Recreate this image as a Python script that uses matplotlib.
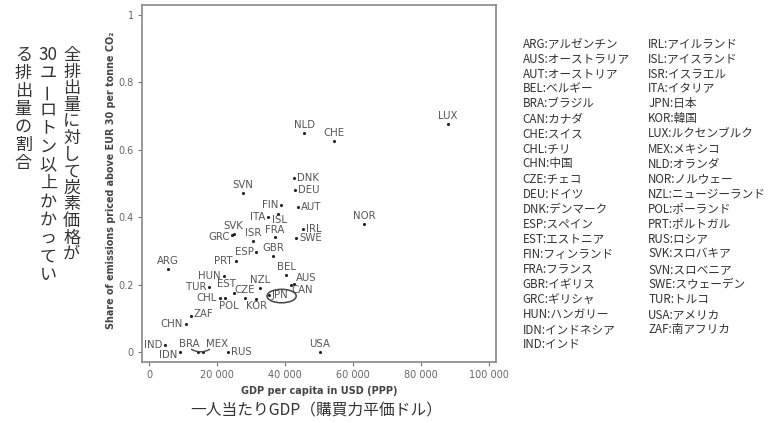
import matplotlib
matplotlib.use('Agg')
import matplotlib.pyplot as plt
from matplotlib.patches import Ellipse, FancyArrowPatch

plt.rcParams['font.family'] = ['DejaVu Sans', 'Noto Sans CJK JP']

# ---------------- data ----------------
codes = ['ARG', 'AUS', 'AUT', 'BEL', 'BRA', 'CAN', 'CHE', 'CHL', 'CHN', 'CZE',
         'DEU', 'DNK', 'ESP', 'EST', 'FIN', 'FRA', 'GBR', 'GRC', 'HUN', 'IDN',
         'IND', 'IRL', 'ISL', 'ISR', 'ITA', 'JPN', 'KOR', 'LUX', 'MEX', 'NLD',
         'NOR', 'NZL', 'POL', 'PRT', 'RUS', 'SVK', 'SVN', 'SWE', 'TUR', 'USA', 'ZAF']
gdp = [5600, 42600, 43900, 40300, 14300, 41700, 54400, 20900, 10800, 28200,
       42900, 42700, 31600, 25000, 38900, 37000, 36500, 24400, 22000, 9100,
       4800, 45300, 38000, 30700, 35000, 35300, 31500, 87800, 16000, 45600,
       63300, 32600, 22300, 25500, 23100, 24900, 27500, 43200, 17700, 50300, 12300]
share = [0.246, 0.203, 0.430, 0.228, 0.0, 0.198, 0.627, 0.161, 0.083, 0.161,
         0.481, 0.517, 0.298, 0.174, 0.436, 0.340, 0.284, 0.346, 0.226, 0.0,
         0.020, 0.364, 0.410, 0.328, 0.400, 0.168, 0.156, 0.676, 0.0, 0.651,
         0.379, 0.189, 0.161, 0.270, 0.0, 0.351, 0.473, 0.338, 0.192, 0.0, 0.108]

x_ticks = [0, 20000, 40000, 60000, 80000, 100000]
x_tick_labels = ['0', '20 000', '40 000', '60 000', '80 000', '100 000']
y_ticks = [0, 0.2, 0.4, 0.6, 0.8, 1.0]
y_tick_labels = ['0', '0.2', '0.4', '0.6', '0.8', '1']

legend_col1 = ['ARG:アルゼンチン', 'AUS:オーストラリア', 'AUT:オーストリア', 'BEL:ベルギー',
               'BRA:ブラジル', 'CAN:カナダ', 'CHE:スイス', 'CHL:チリ', 'CHN:中国',
               'CZE:チェコ', 'DEU:ドイツ', 'DNK:デンマーク', 'ESP:スペイン', 'EST:エストニア',
               'FIN:フィンランド', 'FRA:フランス', 'GBR:イギリス', 'GRC:ギリシャ',
               'HUN:ハンガリー', 'IDN:インドネシア', 'IND:インド']
legend_col2 = ['IRL:アイルランド', 'ISL:アイスランド', 'ISR:イスラエル', 'ITA:イタリア',
               'JPN:日本', 'KOR:韓国', 'LUX:ルクセンブルク', 'MEX:メキシコ', 'NLD:オランダ',
               'NOR:ノルウェー', 'NZL:ニュージーランド', 'POL:ポーランド', 'PRT:ポルトガル',
               'RUS:ロシア', 'SVK:スロバキア', 'SVN:スロベニア', 'SWE:スウェーデン',
               'TUR:トルコ', 'USA:アメリカ', 'ZAF:南アフリカ']

xlabel_en = 'GDP per capita in USD (PPP)'
ylabel_en = 'Share of emissions priced above EUR 30 per tonne CO₂'
xlabel_ja = '一人当たりGDP（購買力平価ドル）'
ylabel_ja_cols = [['全', '排', '出', '量', 'に', '対', 'し', 'て', '炭', '素', '価', '格', 'が'],
                  ['30', 'ユ', 'ー', 'ロ', 'ト', 'ン', '以', '上', 'か', 'か', 'っ', 'て', 'い'],
                  ['る', '排', '出', '量', 'の', '割', '合']]

# ---------------- label placement (pixels) ----------------
A = (0, 3, 'center', 'bottom')
R = (3, 0, 'left', 'center')
L = (-3, 0, 'right', 'center')
B = (0, -2, 'center', 'top')
label_pos = {
    'ARG': A, 'AUS': (2, 1, 'left', 'bottom'), 'AUT': R, 'BEL': A,
    'BRA': (-8, 8, 'center', 'center'), 'CAN': (1, -5, 'left', 'center'),
    'CHE': A, 'CHL': L, 'CHN': L, 'CZE': A, 'DEU': R, 'DNK': R, 'ESP': L,
    'EST': (2, 4, 'right', 'bottom'), 'FIN': L, 'FRA': (0, 2, 'center', 'bottom'), 'GBR': A,
    'GRC': (-2, -2, 'right', 'center'), 'HUN': L, 'IDN': (-3, -3, 'right', 'center'),
    'IND': L, 'IRL': R, 'ISL': (1, -1, 'center', 'top'), 'ISR': A, 'ITA': L,
    'JPN': (2, 0, 'left', 'center'),
    'KOR': B, 'LUX': A, 'MEX': (14, 8, 'center', 'center'), 'NLD': A, 'NOR': A,
    'NZL': A, 'POL': (4, -3, 'center', 'top'), 'PRT': L, 'RUS': R, 'SVK': A,
    'SVN': A, 'SWE': R, 'TUR': L, 'USA': A, 'ZAF': (3, 2, 'left', 'center'),
}

W, H = 776, 423
fig = plt.figure(figsize=(W / 100, H / 100), dpi=100)
fig.patch.set_facecolor('white')
ax = fig.add_axes([142 / W, (H - 362) / H, (496 - 142) / W, (362 - 5) / H])
ax.set_xlim(-2060, 102060)
ax.set_ylim(-0.0297, 1.0297)

ax.scatter(gdp, share, s=5, color='#222222', zorder=3, linewidths=0)

for c, x, y in zip(codes, gdp, share):
    dx, dy, ha, va = label_pos[c]
    ax.annotate(c, (x, y), xytext=(dx, dy), textcoords='offset pixels',
                ha=ha, va=va, fontsize=7.3, color='#555555', zorder=4)

# ellipse around JPN
ji = codes.index('JPN')
ax.add_patch(Ellipse((gdp[ji] + 3700, share[ji] - 0.002), width=8600, height=0.040,
                     fill=False, edgecolor='#444444', lw=1.1, zorder=4))

# curve linking BRA and MEX
bi, mi = codes.index('BRA'), codes.index('MEX')
ax.add_patch(FancyArrowPatch((gdp[bi] - 2500, share[bi] + 0.012),
                             (gdp[mi] + 2500, share[mi] + 0.012),
                             connectionstyle='arc3,rad=0.35', arrowstyle='-',
                             color='#444444', lw=1.0, zorder=4))

ax.set_xticks(x_ticks)
ax.set_xticklabels(x_tick_labels)
ax.set_yticks(y_ticks)
ax.set_yticklabels(y_tick_labels)
ax.tick_params(direction='out', length=3, width=0.8, color='#777777',
               labelsize=7, labelcolor='#666666', pad=3)
for sp in ax.spines.values():
    sp.set_color('#888888')
    sp.set_linewidth(1.2)

fig.text(319 / W, 1 - 391 / H, xlabel_en, ha='center', va='center',
         fontsize=7, fontweight='bold', color='#444444')
fig.text(111.5 / W, 1 - 180 / H, ylabel_en, ha='center', va='center', rotation=90,
         fontsize=6.9, fontweight='bold', color='#444444')
fig.text(316 / W, 1 - 411 / H, xlabel_ja, ha='center', va='center',
         fontsize=11.3, family=['Noto Sans CJK JP'], color='#333333')

# vertical Japanese y label (right-to-left columns)
col_x = [71.7, 48.3, 23.3]
col_step = [16.6, 18.3, 18.0]
for cx, step, chars in zip(col_x, col_step, ylabel_ja_cols):
    for i, ch in enumerate(chars):
        rot = 90 if ch == 'ー' else 0
        fig.text(cx / W, 1 - (55 + i * step) / H, ch, ha='center', va='center',
                 fontsize=12.3, family=['Noto Sans CJK JP'], color='#333333',
                 rotation=rot)

# legend text
for i, t in enumerate(legend_col1):
    fig.text(522.7 / W, 1 - (43.5 + i * 15.05) / H, t, ha='left', va='center',
             fontsize=8.4, family=['Noto Sans CJK JP'], color='#333333')
for i, t in enumerate(legend_col2):
    fig.text(648.3 / W, 1 - (43.5 + i * 15.05) / H, t, ha='left', va='center',
             fontsize=8.4, family=['Noto Sans CJK JP'], color='#333333')

fig.savefig('out.png', dpi=100)
